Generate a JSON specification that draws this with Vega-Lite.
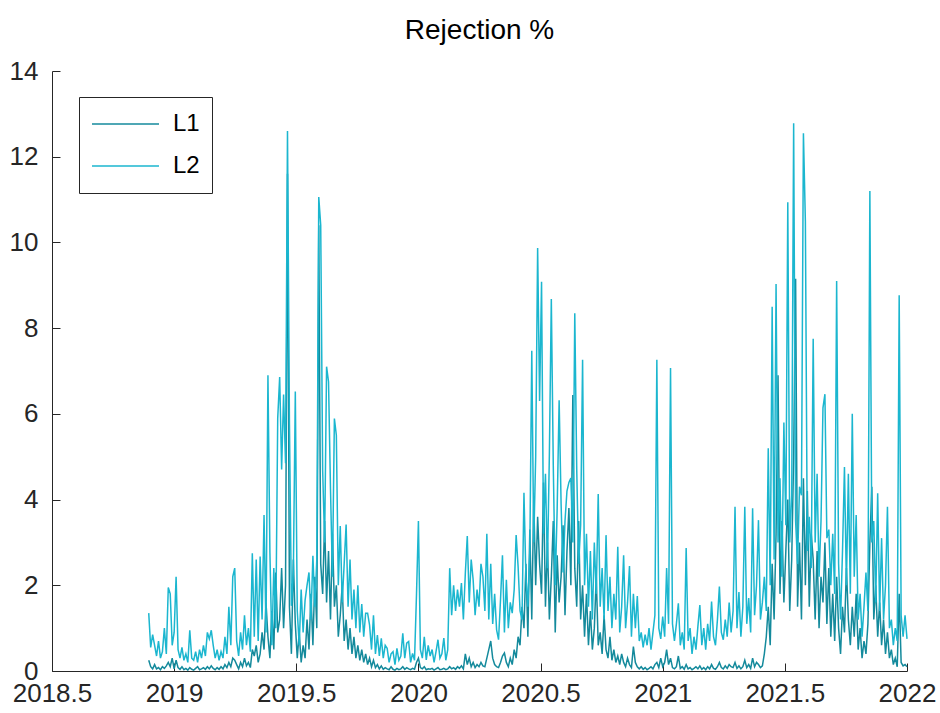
{
"$schema":"https://vega.github.io/schema/vega-lite/v6.json",
"width":855,"height":600,
"autosize":{"type":"none"},
"padding":{"left":52,"top":71,"right":33,"bottom":42},
"background":"white",
"config":{"view":{"stroke":null},"font":"Liberation Sans"},
"title":{"text":"Rejection %","fontSize":28,"font":"Liberation Sans","fontWeight":"normal","color":"#000000","frame":"group","anchor":"middle","baseline":"alphabetic","offset":30,"dy":39},
"data":{"values":[
{"t":2018.896,"L1":0.25,"L2":1.35},{"t":2018.904,"L1":0.1,"L2":0.55},{"t":2018.912,"L1":0.05,"L2":0.85},{"t":2018.920,"L1":0.15,"L2":0.6},{"t":2018.928,"L1":0.05,"L2":0.35},{"t":2018.936,"L1":0.08,"L2":0.7},{"t":2018.944,"L1":0.03,"L2":0.3},{"t":2018.952,"L1":0.1,"L2":0.45},{"t":2018.960,"L1":0.06,"L2":1.0},{"t":2018.968,"L1":0.12,"L2":0.4},
{"t":2018.976,"L1":0.2,"L2":1.95},{"t":2018.984,"L1":0.1,"L2":1.8},{"t":2018.992,"L1":0.3,"L2":0.6},{"t":2019.000,"L1":0.05,"L2":0.9},{"t":2019.008,"L1":0.25,"L2":2.2},{"t":2019.016,"L1":0.08,"L2":0.5},{"t":2019.024,"L1":0.04,"L2":0.3},{"t":2019.032,"L1":0.1,"L2":0.55},{"t":2019.040,"L1":0.03,"L2":0.25},{"t":2019.048,"L1":0.06,"L2":0.4},
{"t":2019.056,"L1":0.02,"L2":0.2},{"t":2019.064,"L1":0.08,"L2":0.95},{"t":2019.072,"L1":0.04,"L2":0.3},{"t":2019.080,"L1":0.02,"L2":0.25},{"t":2019.088,"L1":0.06,"L2":0.45},{"t":2019.096,"L1":0.1,"L2":0.2},{"t":2019.104,"L1":0.03,"L2":0.5},{"t":2019.112,"L1":0.05,"L2":0.3},{"t":2019.120,"L1":0.08,"L2":0.6},{"t":2019.128,"L1":0.04,"L2":0.35},
{"t":2019.136,"L1":0.1,"L2":0.9},{"t":2019.144,"L1":0.05,"L2":0.75},{"t":2019.152,"L1":0.12,"L2":0.95},{"t":2019.160,"L1":0.06,"L2":0.6},{"t":2019.168,"L1":0.03,"L2":0.3},{"t":2019.176,"L1":0.08,"L2":0.5},{"t":2019.184,"L1":0.04,"L2":0.25},{"t":2019.192,"L1":0.1,"L2":0.45},{"t":2019.200,"L1":0.05,"L2":0.3},{"t":2019.208,"L1":0.15,"L2":0.8},
{"t":2019.216,"L1":0.08,"L2":0.4},{"t":2019.224,"L1":0.2,"L2":1.5},{"t":2019.232,"L1":0.1,"L2":0.6},{"t":2019.240,"L1":0.3,"L2":2.2},{"t":2019.248,"L1":0.25,"L2":2.4},{"t":2019.256,"L1":0.15,"L2":0.7},{"t":2019.264,"L1":0.05,"L2":0.35},{"t":2019.272,"L1":0.2,"L2":0.9},{"t":2019.280,"L1":0.1,"L2":0.5},{"t":2019.288,"L1":0.3,"L2":1.3},
{"t":2019.296,"L1":0.12,"L2":0.6},{"t":2019.304,"L1":0.2,"L2":1.0},{"t":2019.312,"L1":0.08,"L2":0.45},{"t":2019.320,"L1":0.5,"L2":2.75},{"t":2019.328,"L1":0.35,"L2":0.8},{"t":2019.336,"L1":0.6,"L2":2.6},{"t":2019.344,"L1":0.2,"L2":0.7},{"t":2019.352,"L1":0.4,"L2":2.67},{"t":2019.360,"L1":0.9,"L2":1.2},{"t":2019.368,"L1":0.5,"L2":3.64},
{"t":2019.376,"L1":1.6,"L2":0.9},{"t":2019.384,"L1":0.8,"L2":6.9},{"t":2019.392,"L1":0.3,"L2":2.77},{"t":2019.400,"L1":1.4,"L2":0.6},{"t":2019.408,"L1":0.5,"L2":2.4},{"t":2019.416,"L1":2.3,"L2":1.0},{"t":2019.424,"L1":0.9,"L2":5.9},{"t":2019.432,"L1":1.2,"L2":6.86},{"t":2019.440,"L1":2.4,"L2":4.7},{"t":2019.448,"L1":1.0,"L2":6.45},
{"t":2019.456,"L1":2.0,"L2":4.85},{"t":2019.464,"L1":11.6,"L2":12.6},{"t":2019.472,"L1":1.5,"L2":5.76},{"t":2019.480,"L1":0.4,"L2":1.52},{"t":2019.488,"L1":2.6,"L2":2.3},{"t":2019.496,"L1":1.1,"L2":6.52},{"t":2019.504,"L1":0.3,"L2":1.4},{"t":2019.512,"L1":0.9,"L2":0.6},{"t":2019.520,"L1":0.2,"L2":1.9},{"t":2019.528,"L1":0.6,"L2":0.9},
{"t":2019.536,"L1":0.3,"L2":1.65},{"t":2019.544,"L1":1.2,"L2":2.0},{"t":2019.552,"L1":0.5,"L2":2.3},{"t":2019.560,"L1":1.8,"L2":1.2},{"t":2019.568,"L1":0.6,"L2":2.69},{"t":2019.576,"L1":2.2,"L2":1.5},{"t":2019.584,"L1":1.0,"L2":2.6},{"t":2019.592,"L1":10.4,"L2":11.06},{"t":2019.600,"L1":2.5,"L2":10.4},{"t":2019.608,"L1":1.8,"L2":4.68},
{"t":2019.616,"L1":3.5,"L2":3.0},{"t":2019.624,"L1":1.6,"L2":7.1},{"t":2019.632,"L1":2.8,"L2":6.75},{"t":2019.640,"L1":1.2,"L2":4.25},{"t":2019.648,"L1":3.2,"L2":2.2},{"t":2019.656,"L1":1.5,"L2":5.89},{"t":2019.664,"L1":2.0,"L2":5.5},{"t":2019.672,"L1":0.8,"L2":2.0},{"t":2019.680,"L1":1.3,"L2":3.38},{"t":2019.688,"L1":2.0,"L2":1.6},
{"t":2019.696,"L1":0.7,"L2":2.5},{"t":2019.704,"L1":1.2,"L2":3.42},{"t":2019.712,"L1":0.5,"L2":1.5},{"t":2019.720,"L1":1.0,"L2":2.6},{"t":2019.728,"L1":0.4,"L2":1.2},{"t":2019.736,"L1":0.8,"L2":1.9},{"t":2019.744,"L1":0.3,"L2":1.0},{"t":2019.752,"L1":0.6,"L2":2.0},{"t":2019.760,"L1":0.25,"L2":0.9},{"t":2019.768,"L1":0.5,"L2":1.56},
{"t":2019.776,"L1":0.2,"L2":0.8},{"t":2019.784,"L1":0.4,"L2":1.35},{"t":2019.792,"L1":0.15,"L2":1.35},{"t":2019.800,"L1":0.3,"L2":1.07},{"t":2019.808,"L1":0.1,"L2":0.5},{"t":2019.816,"L1":0.25,"L2":1.3},{"t":2019.824,"L1":0.08,"L2":0.4},{"t":2019.832,"L1":0.15,"L2":0.84},{"t":2019.840,"L1":0.05,"L2":0.35},{"t":2019.848,"L1":0.12,"L2":0.76},
{"t":2019.856,"L1":0.04,"L2":0.3},{"t":2019.864,"L1":0.08,"L2":0.6},{"t":2019.872,"L1":0.05,"L2":0.53},{"t":2019.880,"L1":0.03,"L2":0.2},{"t":2019.888,"L1":0.1,"L2":0.4},{"t":2019.896,"L1":0.04,"L2":0.45},{"t":2019.904,"L1":0.02,"L2":0.15},{"t":2019.912,"L1":0.06,"L2":0.53},{"t":2019.920,"L1":0.03,"L2":0.25},{"t":2019.928,"L1":0.05,"L2":0.35},
{"t":2019.936,"L1":0.1,"L2":0.88},{"t":2019.944,"L1":0.04,"L2":0.3},{"t":2019.952,"L1":0.08,"L2":0.65},{"t":2019.960,"L1":0.05,"L2":0.69},{"t":2019.968,"L1":0.03,"L2":0.2},{"t":2019.976,"L1":0.06,"L2":0.41},{"t":2019.984,"L1":0.04,"L2":0.25},{"t":2019.992,"L1":0.2,"L2":1.77},{"t":2020.000,"L1":0.3,"L2":3.5},{"t":2020.008,"L1":0.08,"L2":0.5},
{"t":2020.016,"L1":0.05,"L2":0.3},{"t":2020.024,"L1":0.1,"L2":0.8},{"t":2020.032,"L1":0.03,"L2":0.26},{"t":2020.040,"L1":0.05,"L2":0.6},{"t":2020.048,"L1":0.04,"L2":0.35},{"t":2020.056,"L1":0.06,"L2":0.5},{"t":2020.064,"L1":0.02,"L2":0.2},{"t":2020.072,"L1":0.05,"L2":0.45},{"t":2020.080,"L1":0.08,"L2":0.73},{"t":2020.088,"L1":0.03,"L2":0.3},
{"t":2020.096,"L1":0.04,"L2":0.4},{"t":2020.104,"L1":0.06,"L2":0.77},{"t":2020.112,"L1":0.03,"L2":0.25},{"t":2020.120,"L1":0.05,"L2":0.5},{"t":2020.128,"L1":0.1,"L2":2.4},{"t":2020.136,"L1":0.05,"L2":1.3},{"t":2020.144,"L1":0.08,"L2":2.0},{"t":2020.152,"L1":0.04,"L2":1.4},{"t":2020.160,"L1":0.1,"L2":1.9},{"t":2020.168,"L1":0.06,"L2":1.5},
{"t":2020.176,"L1":0.12,"L2":2.05},{"t":2020.184,"L1":0.05,"L2":1.2},{"t":2020.192,"L1":0.4,"L2":2.28},{"t":2020.200,"L1":0.15,"L2":3.15},{"t":2020.208,"L1":0.3,"L2":1.6},{"t":2020.216,"L1":0.1,"L2":2.6},{"t":2020.224,"L1":0.2,"L2":2.13},{"t":2020.232,"L1":0.08,"L2":1.3},{"t":2020.240,"L1":0.15,"L2":1.9},{"t":2020.248,"L1":0.1,"L2":1.5},
{"t":2020.256,"L1":0.2,"L2":2.5},{"t":2020.264,"L1":0.12,"L2":2.2},{"t":2020.272,"L1":0.1,"L2":1.4},{"t":2020.280,"L1":0.3,"L2":3.2},{"t":2020.288,"L1":0.5,"L2":1.2},{"t":2020.296,"L1":0.7,"L2":2.5},{"t":2020.304,"L1":0.3,"L2":1.1},{"t":2020.312,"L1":0.15,"L2":1.8},{"t":2020.320,"L1":0.1,"L2":0.96},{"t":2020.328,"L1":0.08,"L2":0.73},
{"t":2020.336,"L1":0.2,"L2":1.66},{"t":2020.344,"L1":0.35,"L2":2.7},{"t":2020.352,"L1":0.42,"L2":0.9},{"t":2020.360,"L1":0.2,"L2":2.13},{"t":2020.368,"L1":0.1,"L2":1.0},{"t":2020.376,"L1":0.3,"L2":1.6},{"t":2020.384,"L1":0.15,"L2":1.35},{"t":2020.392,"L1":0.5,"L2":1.9},{"t":2020.400,"L1":0.3,"L2":3.17},{"t":2020.408,"L1":0.8,"L2":2.44},
{"t":2020.416,"L1":0.6,"L2":1.4},{"t":2020.424,"L1":1.5,"L2":1.2},{"t":2020.432,"L1":1.0,"L2":4.16},{"t":2020.440,"L1":2.5,"L2":2.2},{"t":2020.448,"L1":0.8,"L2":1.5},{"t":2020.456,"L1":3.3,"L2":2.8},{"t":2020.464,"L1":1.2,"L2":7.47},{"t":2020.472,"L1":4.0,"L2":3.0},{"t":2020.480,"L1":2.0,"L2":5.0},{"t":2020.488,"L1":3.6,"L2":9.87},
{"t":2020.496,"L1":2.5,"L2":6.3},{"t":2020.504,"L1":1.8,"L2":9.08},{"t":2020.512,"L1":4.4,"L2":3.2},{"t":2020.520,"L1":1.5,"L2":4.6},{"t":2020.528,"L1":3.0,"L2":2.4},{"t":2020.536,"L1":1.2,"L2":5.04},{"t":2020.544,"L1":2.2,"L2":8.68},{"t":2020.552,"L1":3.5,"L2":4.8},{"t":2020.560,"L1":0.9,"L2":2.0},{"t":2020.568,"L1":2.7,"L2":3.8},
{"t":2020.576,"L1":1.6,"L2":6.32},{"t":2020.584,"L1":2.2,"L2":3.9},{"t":2020.592,"L1":3.4,"L2":2.3},{"t":2020.600,"L1":1.3,"L2":3.5},{"t":2020.608,"L1":2.8,"L2":4.2},{"t":2020.616,"L1":3.8,"L2":4.4},{"t":2020.624,"L1":2.0,"L2":4.5},{"t":2020.632,"L1":6.44,"L2":3.0},{"t":2020.640,"L1":2.4,"L2":8.35},{"t":2020.648,"L1":1.5,"L2":4.7},
{"t":2020.656,"L1":3.5,"L2":2.5},{"t":2020.664,"L1":1.2,"L2":3.4},{"t":2020.672,"L1":2.0,"L2":7.26},{"t":2020.680,"L1":0.8,"L2":2.0},{"t":2020.688,"L1":1.8,"L2":3.2},{"t":2020.696,"L1":0.6,"L2":1.5},{"t":2020.704,"L1":1.4,"L2":2.8},{"t":2020.712,"L1":0.5,"L2":1.2},{"t":2020.720,"L1":1.0,"L2":3.0},{"t":2020.728,"L1":2.2,"L2":1.8},
{"t":2020.736,"L1":0.6,"L2":4.13},{"t":2020.744,"L1":0.9,"L2":1.5},{"t":2020.752,"L1":0.4,"L2":2.4},{"t":2020.760,"L1":1.3,"L2":1.2},{"t":2020.768,"L1":0.5,"L2":3.17},{"t":2020.776,"L1":0.3,"L2":1.4},{"t":2020.784,"L1":0.8,"L2":2.2},{"t":2020.792,"L1":0.25,"L2":1.0},{"t":2020.800,"L1":0.5,"L2":1.8},{"t":2020.808,"L1":0.2,"L2":1.2},
{"t":2020.816,"L1":0.35,"L2":2.9},{"t":2020.824,"L1":0.15,"L2":0.9},{"t":2020.832,"L1":0.4,"L2":1.5},{"t":2020.840,"L1":0.2,"L2":2.7},{"t":2020.848,"L1":0.1,"L2":1.0},{"t":2020.856,"L1":0.3,"L2":1.6},{"t":2020.864,"L1":0.15,"L2":2.45},{"t":2020.872,"L1":0.08,"L2":0.8},{"t":2020.880,"L1":0.57,"L2":1.8},{"t":2020.888,"L1":0.2,"L2":1.0},
{"t":2020.896,"L1":0.1,"L2":1.75},{"t":2020.904,"L1":0.05,"L2":0.7},{"t":2020.912,"L1":0.1,"L2":0.9},{"t":2020.920,"L1":0.04,"L2":0.55},{"t":2020.928,"L1":0.08,"L2":0.85},{"t":2020.936,"L1":0.03,"L2":0.6},{"t":2020.944,"L1":0.06,"L2":1.0},{"t":2020.952,"L1":0.1,"L2":0.5},{"t":2020.960,"L1":0.05,"L2":0.9},{"t":2020.968,"L1":0.15,"L2":1.3},
{"t":2020.976,"L1":0.2,"L2":7.26},{"t":2020.984,"L1":0.08,"L2":1.0},{"t":2020.992,"L1":0.3,"L2":0.75},{"t":2021.000,"L1":0.1,"L2":1.27},{"t":2021.008,"L1":0.2,"L2":0.8},{"t":2021.016,"L1":0.5,"L2":2.4},{"t":2021.024,"L1":0.15,"L2":1.1},{"t":2021.032,"L1":0.3,"L2":7.07},{"t":2021.040,"L1":0.08,"L2":1.1},{"t":2021.048,"L1":0.05,"L2":0.7},
{"t":2021.056,"L1":0.1,"L2":1.1},{"t":2021.064,"L1":0.35,"L2":1.58},{"t":2021.072,"L1":0.06,"L2":0.6},{"t":2021.080,"L1":0.1,"L2":0.9},{"t":2021.088,"L1":0.04,"L2":0.5},{"t":2021.096,"L1":0.15,"L2":2.87},{"t":2021.104,"L1":0.05,"L2":0.7},{"t":2021.112,"L1":0.08,"L2":1.0},{"t":2021.120,"L1":0.03,"L2":0.4},{"t":2021.128,"L1":0.06,"L2":0.8},
{"t":2021.136,"L1":0.1,"L2":0.5},{"t":2021.144,"L1":0.05,"L2":1.04},{"t":2021.152,"L1":0.12,"L2":1.54},{"t":2021.160,"L1":0.04,"L2":0.6},{"t":2021.168,"L1":0.08,"L2":1.0},{"t":2021.176,"L1":0.03,"L2":0.5},{"t":2021.184,"L1":0.1,"L2":1.1},{"t":2021.192,"L1":0.05,"L2":0.7},{"t":2021.200,"L1":0.15,"L2":1.62},{"t":2021.208,"L1":0.06,"L2":0.8},
{"t":2021.216,"L1":0.04,"L2":0.6},{"t":2021.224,"L1":0.1,"L2":1.2},{"t":2021.232,"L1":0.2,"L2":1.97},{"t":2021.240,"L1":0.08,"L2":0.9},{"t":2021.248,"L1":0.05,"L2":0.73},{"t":2021.256,"L1":0.12,"L2":1.2},{"t":2021.264,"L1":0.06,"L2":0.8},{"t":2021.272,"L1":0.15,"L2":1.6},{"t":2021.280,"L1":0.1,"L2":0.9},{"t":2021.288,"L1":0.08,"L2":1.4},
{"t":2021.296,"L1":0.2,"L2":3.83},{"t":2021.304,"L1":0.06,"L2":1.0},{"t":2021.312,"L1":0.12,"L2":1.84},{"t":2021.320,"L1":0.05,"L2":0.8},{"t":2021.328,"L1":0.1,"L2":1.5},{"t":2021.336,"L1":0.25,"L2":3.83},{"t":2021.344,"L1":0.08,"L2":1.1},{"t":2021.352,"L1":0.15,"L2":1.7},{"t":2021.360,"L1":0.06,"L2":0.9},{"t":2021.368,"L1":0.3,"L2":3.8},
{"t":2021.376,"L1":0.1,"L2":1.3},{"t":2021.384,"L1":0.2,"L2":2.0},{"t":2021.392,"L1":0.15,"L2":3.52},{"t":2021.400,"L1":0.08,"L2":1.2},{"t":2021.408,"L1":0.12,"L2":1.6},{"t":2021.416,"L1":0.4,"L2":2.2},{"t":2021.424,"L1":0.8,"L2":1.4},{"t":2021.432,"L1":1.5,"L2":5.2},{"t":2021.440,"L1":0.6,"L2":2.0},{"t":2021.448,"L1":2.5,"L2":8.5},
{"t":2021.456,"L1":1.2,"L2":2.6},{"t":2021.464,"L1":3.2,"L2":9.03},{"t":2021.472,"L1":6.9,"L2":3.0},{"t":2021.480,"L1":1.8,"L2":4.5},{"t":2021.488,"L1":3.5,"L2":2.2},{"t":2021.496,"L1":1.6,"L2":5.8},{"t":2021.504,"L1":2.8,"L2":3.4},{"t":2021.512,"L1":4.0,"L2":10.94},{"t":2021.520,"L1":1.4,"L2":3.0},{"t":2021.528,"L1":2.6,"L2":4.1},
{"t":2021.536,"L1":5.0,"L2":12.78},{"t":2021.544,"L1":9.15,"L2":3.5},{"t":2021.552,"L1":1.5,"L2":2.5},{"t":2021.560,"L1":3.0,"L2":4.3},{"t":2021.568,"L1":1.2,"L2":4.1},{"t":2021.576,"L1":4.5,"L2":12.55},{"t":2021.584,"L1":2.0,"L2":10.48},{"t":2021.592,"L1":4.2,"L2":2.8},{"t":2021.600,"L1":1.5,"L2":3.6},{"t":2021.608,"L1":3.2,"L2":2.4},
{"t":2021.616,"L1":2.6,"L2":7.75},{"t":2021.624,"L1":1.2,"L2":3.0},{"t":2021.632,"L1":2.8,"L2":4.6},{"t":2021.640,"L1":1.0,"L2":2.2},{"t":2021.648,"L1":2.2,"L2":3.5},{"t":2021.656,"L1":1.6,"L2":6.14},{"t":2021.664,"L1":3.0,"L2":6.46},{"t":2021.672,"L1":1.1,"L2":3.1},{"t":2021.680,"L1":2.4,"L2":3.3},{"t":2021.688,"L1":0.8,"L2":2.0},
{"t":2021.696,"L1":1.8,"L2":3.2},{"t":2021.704,"L1":0.7,"L2":1.8},{"t":2021.712,"L1":2.2,"L2":9.1},{"t":2021.720,"L1":1.0,"L2":2.5},{"t":2021.728,"L1":0.4,"L2":1.2},{"t":2021.736,"L1":1.5,"L2":2.8},{"t":2021.744,"L1":0.9,"L2":4.76},{"t":2021.752,"L1":2.4,"L2":2.0},{"t":2021.760,"L1":1.2,"L2":4.6},{"t":2021.768,"L1":0.6,"L2":1.8},
{"t":2021.776,"L1":1.5,"L2":6.0},{"t":2021.784,"L1":0.8,"L2":2.2},{"t":2021.792,"L1":1.8,"L2":3.64},{"t":2021.800,"L1":0.5,"L2":1.2},{"t":2021.808,"L1":1.0,"L2":1.8},{"t":2021.816,"L1":0.3,"L2":0.8},{"t":2021.824,"L1":0.7,"L2":1.5},{"t":2021.832,"L1":0.4,"L2":2.3},{"t":2021.840,"L1":1.1,"L2":1.4},{"t":2021.848,"L1":3.0,"L2":11.2},
{"t":2021.856,"L1":4.3,"L2":3.0},{"t":2021.864,"L1":1.2,"L2":3.5},{"t":2021.872,"L1":2.0,"L2":1.6},{"t":2021.880,"L1":0.8,"L2":4.15},{"t":2021.888,"L1":1.6,"L2":1.4},{"t":2021.896,"L1":0.6,"L2":3.1},{"t":2021.904,"L1":1.2,"L2":1.2},{"t":2021.912,"L1":0.4,"L2":2.0},{"t":2021.920,"L1":0.9,"L2":3.83},{"t":2021.928,"L1":0.3,"L2":1.0},
{"t":2021.936,"L1":0.5,"L2":1.2},{"t":2021.944,"L1":0.15,"L2":0.6},{"t":2021.952,"L1":0.3,"L2":1.0},{"t":2021.960,"L1":0.1,"L2":0.7},{"t":2021.968,"L1":1.8,"L2":8.77},{"t":2021.976,"L1":0.2,"L2":1.3},{"t":2021.984,"L1":0.12,"L2":0.8},{"t":2021.992,"L1":0.15,"L2":1.3},{"t":2022.000,"L1":0.1,"L2":0.75}
]},
"transform":[{"fold":["L1","L2"],"as":["series","value"]}],
"mark":{"type":"line","strokeWidth":1.5,"interpolate":"linear"},
"encoding":{
"x":{"field":"t","type":"quantitative","scale":{"domain":[2018.5,2022],"nice":false,"zero":false},
"axis":{"title":null,"values":[2018.5,2019,2019.5,2020,2020.5,2021,2021.5,2022],"format":"~g","grid":false,"tickSize":-8,"labelPadding":17,"labelFontSize":26,"labelFont":"Liberation Sans","labelColor":"#262626","domainColor":"#262626","tickColor":"#262626","domainWidth":1,"labelFlush":false,"labelOverlap":false,"labelBound":false}},
"y":{"field":"value","type":"quantitative","scale":{"domain":[0,14],"nice":false},
"axis":{"title":null,"values":[0,2,4,6,8,10,12,14],"grid":false,"tickSize":-8,"labelPadding":22,"labelFontSize":26,"labelFont":"Liberation Sans","labelColor":"#262626","domainColor":"#262626","tickColor":"#262626","domainWidth":1,"labelOverlap":false,"labelBound":false}},
"color":{"field":"series","type":"nominal","scale":{"domain":["L1","L2"],"range":["#148a9c","#1bb6cf"]},
"legend":{"orient":"none","legendX":27,"legendY":26,"title":null,"symbolType":"stroke","symbolSize":4489,"symbolStrokeWidth":1.5,"clipHeight":30,"rowPadding":12,"labelFontSize":24,"labelFont":"Liberation Sans","labelColor":"#000000","labelOffset":13,"padding":12,"strokeColor":"#262626","fillColor":"white"}}
}
}
